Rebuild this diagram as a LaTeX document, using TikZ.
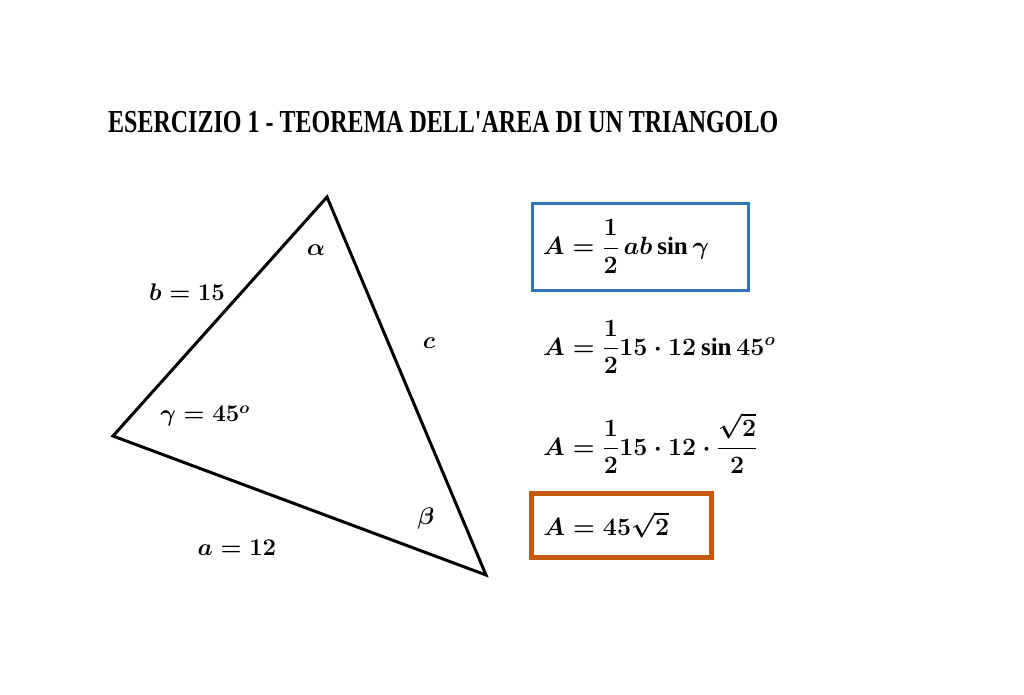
\documentclass[tikz,border=0pt]{standalone}
\usepackage{fix-cm}
\usepackage{amsmath}
\usepackage{fontspec}
\setmainfont{Liberation Serif}
\usepackage{tikz}
\usepackage{xcolor}
\definecolor{boxblue}{RGB}{46,117,182}
\definecolor{boxorange}{RGB}{197,90,17}

\begin{document}
\begin{tikzpicture}[x=1pt, y=-1pt,
    formula/.style={font=\fontsize{25}{29}\selectfont\boldmath, inner sep=0pt},
    lbl/.style={font=\fontsize{24}{28}\selectfont\boldmath, inner sep=0pt},
    side/.style={line width=3pt}]
    \useasboundingbox (0,0) rectangle (1024,694);

    % Titolo
    \node[anchor=base west, inner sep=0pt, font=\fontsize{32}{36}\selectfont\bfseries] (titolo) at (108,132)
        {\scalebox{0.75}[1]{ESERCIZIO 1 - TEOREMA DELL\textquotesingle AREA DI UN TRIANGOLO}};

    % Triangolo
    \coordinate (C) at (113,436);
    \coordinate (A) at (327,197);
    \coordinate (B) at (486,575);
    \draw[side] (C) -- (A) -- (B) -- cycle;
    \node[lbl] (alfa) at (316,250) {$\alpha$};
    \node[lbl] (beta) at (426,518) {$\beta$};
    \node[lbl] (gamma) at (205,416) {$\gamma = 45^{o}$};
    \node[lbl] (latob) at (187,292) {$b = 15$};
    \node[lbl] (latoc) at (429,343) {$c$};
    \node[lbl] (latoa) at (237,548) {$a = 12$};

    % Formule
    \node[formula, draw=boxblue, line width=3pt, minimum width=216pt, minimum height=87pt,
          text width=196pt, inner xsep=10pt, align=left] (f1) at (640.8,246.5)
        {$A = \dfrac{1}{2}\,ab\sin\gamma$};
    \node[formula, anchor=base west] (f2) at (543,355)
        {$A = \dfrac{1}{2}15\cdot 12\sin 45^{o}$};
    \node[formula, anchor=base west] (f3) at (543,455)
        {$A = \dfrac{1}{2}15\cdot 12\cdot\dfrac{\sqrt{2}}{2}$};
    \node[formula, draw=boxorange, line width=5pt, minimum width=180.7pt, minimum height=64pt,
          text width=156pt, inner xsep=12pt, align=left] (f4) at (621.4,525)
        {$A = 45\sqrt{2}$};
\end{tikzpicture}
\end{document}
